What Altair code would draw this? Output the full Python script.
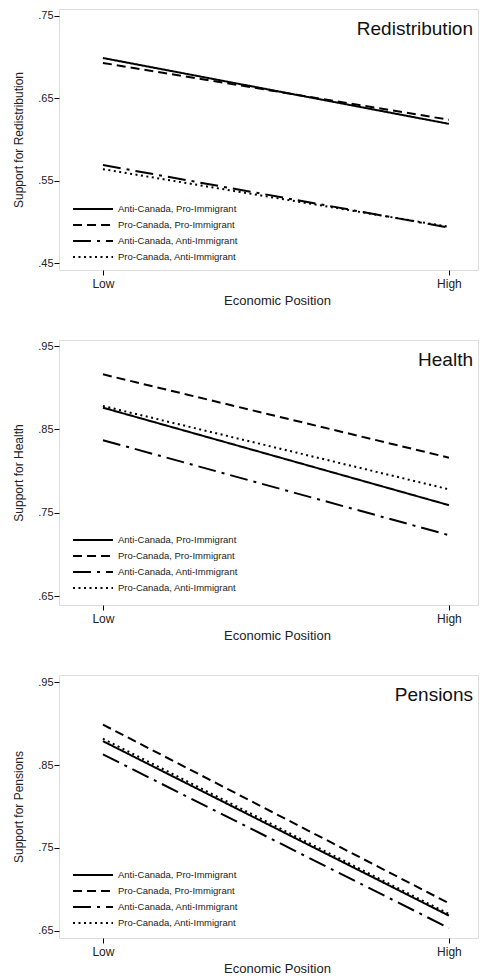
import altair as alt
import pandas as pd

groups = ["Anti-Canada, Pro-Immigrant", "Pro-Canada, Pro-Immigrant",
          "Anti-Canada, Anti-Immigrant", "Pro-Canada, Anti-Immigrant"]
positions = [0, 1]  # Low, High
pos_labels = ["Low", "High"]

redis_low = [0.699, 0.693, 0.569, 0.564]
redis_high = [0.619, 0.624, 0.493, 0.494]
health_low = [0.876, 0.916, 0.837, 0.878]
health_high = [0.759, 0.816, 0.723, 0.778]
pens_low = [0.879, 0.899, 0.863, 0.882]
pens_high = [0.668, 0.683, 0.653, 0.670]

dashes = [[1, 0], [9, 5], [18, 6, 3, 6], [2, 3.5]]

W = 419
FONT = "Liberation Sans"


def make_df(low, high):
    rows = []
    for g, lo, hi in zip(groups, low, high):
        rows.append({"group": g, "pos": positions[0], "value": lo})
        rows.append({"group": g, "pos": positions[1], "value": hi})
    return pd.DataFrame(rows)


def panel(name, low, high, ydomain, yvalues, h):
    df = make_df(low, high)
    lines = alt.Chart(df).mark_line(color="black", strokeWidth=2).encode(
        x=alt.X("pos:Q",
                scale=alt.Scale(domain=[-0.127, 1.084], nice=False, zero=False),
                axis=alt.Axis(values=positions,
                              labelExpr="datum.value == 0 ? 'Low' : 'High'",
                              title="Economic Position", grid=False, domain=False,
                              tickSize=5, tickColor="black", labelFontSize=12,
                              labelPadding=3, titleFontSize=13, titlePadding=5,
                              titleFontWeight="normal", titleX=218,
                              labelColor="#222", titleColor="#222", labelFont=FONT, titleFont=FONT)),
        y=alt.Y("value:Q",
                scale=alt.Scale(domain=ydomain, nice=False, zero=False),
                axis=alt.Axis(values=yvalues,
                              labelExpr="substring(format(datum.value, '.2f'), 1)",
                              title="Support for " + name, grid=False, domain=False,
                              tickSize=5, tickColor="black", labelFontSize=11,
                              labelPadding=1, titleFontSize=12, titlePadding=12,
                              titleFontWeight="normal",
                              labelColor="#222", titleColor="#222", labelFont=FONT, titleFont=FONT)),
        strokeDash=alt.StrokeDash("group:N",
                                  scale=alt.Scale(domain=groups, range=dashes),
                                  legend=alt.Legend(orient="none", legendX=28, legendY=194,
                                                    title=None, symbolType="M-4,0H4",
                                                    symbolSize=100, symbolStrokeWidth=2,
                                                    symbolStrokeColor="black",
                                                    labelFontSize=9.5, labelFont=FONT,
                                                    labelColor="#222", rowPadding=5,
                                                    padding=0, labelOffset=19)),
        detail="group:N",
    )
    title = alt.Chart(pd.DataFrame({"t": [name]})).mark_text(
        align="right", baseline="alphabetic", fontSize=19, font=FONT, color="#111"
    ).encode(x=alt.value(W - 5), y=alt.value(26), text="t:N")
    return alt.layer(lines, title).properties(width=W, height=h)


p1 = panel("Redistribution", redis_low, redis_high, [0.4415, 0.7585], [0.45, 0.55, 0.65, 0.75], 261)
p2 = panel("Health", health_low, health_high, [0.6392, 0.9572], [0.65, 0.75, 0.85, 0.95], 265)
p3 = panel("Pensions", pens_low, pens_high, [0.641, 0.959], [0.65, 0.75, 0.85, 0.95], 263)

chart = alt.vconcat(p1, p2, p3, spacing=31).resolve_scale(
    strokeDash="independent", y="independent"
).resolve_legend(strokeDash="independent").properties(
    padding={"left": 4, "top": 0, "right": 0, "bottom": 0}
).configure_view(stroke="#111", strokeWidth=1.6).configure(background="white")

chart.save("out.html", embed_options={"renderer": "svg", "actions": False})
